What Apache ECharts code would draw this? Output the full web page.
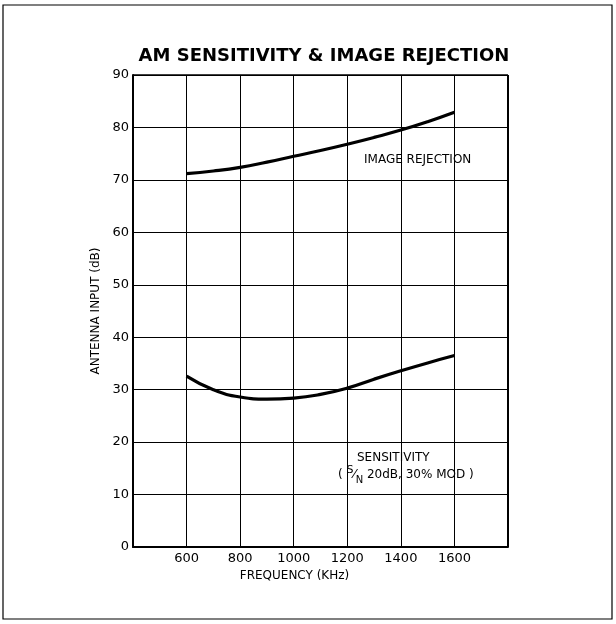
<!DOCTYPE html>
<html>
  <head>
    <meta charset="UTF-8">
    <title>AM sensitivity & image rejection</title>
    <script src="https://cdn.jsdelivr.net/npm/echarts@6/dist/echarts.min.js"></script>
    <style>
      html, body { margin: 0; padding: 0; background: #fff; }
      #chart { width: 616px; height: 624px; }
    </style>
  </head>
  <body>
    <div id="chart"></div>
    <script>
// frequency (kHz) points
const freqs = [600, 700, 800, 900, 1000, 1100, 1200, 1300, 1400, 1500, 1600];
const imageRejection = [71.2, 71.7, 72.4, 73.4, 74.5, 75.6, 76.8, 78.1, 79.5, 81.1, 82.9];
const sensitivity = [32.6, 30.0, 28.6, 28.2, 28.4, 29.1, 30.3, 32.0, 33.6, 35.1, 36.5];
const xTicks = [600, 800, 1000, 1200, 1400, 1600];

const FONT = "DejaVu Sans";
const INK = "#000";

const chart = echarts.init(document.getElementById('chart'), null, {renderer: 'canvas'});

function pairs(ys) {
  return freqs.map((f, i) => [f, ys[i]]);
}

chart.setOption({
  animation: false,
  backgroundColor: '#fff',
  title: {
    text: 'AM SENSITIVITY & IMAGE REJECTION',
    left: 319,
    textAlign: 'center',
    top: 42,
    textStyle: {fontFamily: FONT, fontWeight: 'bold', fontSize: 18, color: '#000'}
  },
  grid: {left: 133, right: 108, top: 75, bottom: 77},
  xAxis: {
    type: 'value',
    min: 400, max: 1800, interval: 200,
    name: 'FREQUENCY (KHz)',
    nameLocation: 'middle',
    nameGap: 21,
    nameTextStyle: {fontFamily: FONT, fontSize: 12, color: INK, padding: [0, 52, 0, 0]},
    axisLine: {lineStyle: {color: '#000', width: 2}},
    axisTick: {show: false},
    axisLabel: {
      margin: 5,
      fontFamily: FONT, fontSize: 13, color: INK,
      formatter: v => xTicks.includes(v) ? String(v) : ''
    },
    splitLine: {lineStyle: {color: '#000', width: 1}}
  },
  yAxis: {
    type: 'value',
    min: 0, max: 90, interval: 10,
    name: 'ANTENNA INPUT (dB)',
    nameLocation: 'middle',
    nameGap: 23,
    nameTextStyle: {fontFamily: FONT, fontSize: 12, color: INK},
    axisLine: {show: true, lineStyle: {color: '#000', width: 2}},
    axisTick: {show: false},
    axisLabel: {margin: 4, fontFamily: FONT, fontSize: 13, color: INK},
    splitLine: {lineStyle: {color: '#000', width: 1}}
  },
  series: [
    {
      name: 'IMAGE REJECTION',
      type: 'line',
      data: pairs(imageRejection),
      smooth: true,
      symbol: 'none',
      lineStyle: {color: '#000', width: 3.2}
    },
    {
      name: 'SENSITIVITY',
      type: 'line',
      data: pairs(sensitivity),
      smooth: true,
      symbol: 'none',
      lineStyle: {color: '#000', width: 3.2}
    }
  ],
  graphic: [
    // right and top borders of the plot box
    {type: 'line', shape: {x1: 508, y1: 75, x2: 508, y2: 547}, style: {stroke: '#000', lineWidth: 2}},
    {type: 'line', shape: {x1: 133, y1: 75, x2: 508, y2: 75}, style: {stroke: '#000', lineWidth: 1.5}},
    // page frame
    {type: 'rect', shape: {x: 3, y: 5, width: 609, height: 614}, style: {fill: null, stroke: '#000', lineWidth: 1.2}},
    {
      type: 'text', left: 364, top: 154,
      style: {text: 'IMAGE REJECTION', fontFamily: FONT, fontSize: 12, fill: INK}
    },
    {
      type: 'text', left: 357, top: 452,
      style: {text: 'SENSITIVITY', fontFamily: FONT, fontSize: 12, fill: INK}
    },
    {
      type: 'text', left: 338, top: 465,
      style: {
        text: '( {s|S}{sl|⁄}{n|N} 20dB, 30% MOD )',
        fontFamily: FONT, fontSize: 12, fill: INK,
        lineHeight: 20,
        rich: {
          s: {fontSize: 11, fontFamily: FONT, verticalAlign: 'top', fill: INK},
          sl: {fontSize: 13, fontFamily: FONT, fill: INK},
          n: {fontSize: 10, fontFamily: FONT, verticalAlign: 'bottom', fill: INK}
        }
      }
    }
  ]
});
    </script>
  </body>
</html>
